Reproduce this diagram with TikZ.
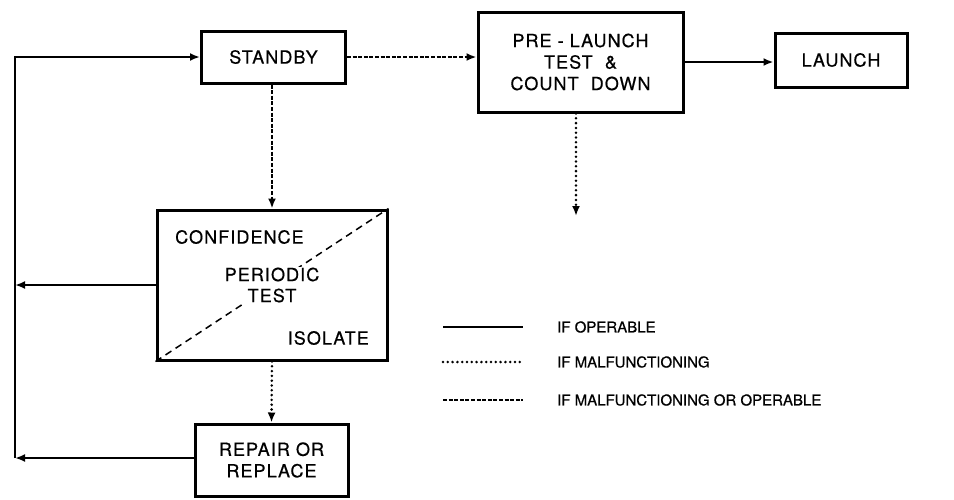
\documentclass[tikz,border=0pt]{standalone}
\usepackage{fontspec}
\setmainfont{TeX Gyre Heros}
\newfontfamily\boxfont[LetterSpace=6,FakeBold=0.6]{TeX Gyre Heros}
\newfontfamily\legfont[FakeBold=0.6]{TeX Gyre Heros}
\usetikzlibrary{arrows.meta}
\begin{document}
\begin{tikzpicture}[x=1pt,y=-1pt,
	block/.style={draw, line width=3pt, align=center, inner sep=0pt,
		font=\boxfont\fontsize{18}{21.5}\selectfont},
	label text/.style={inner sep=1pt, font=\boxfont\fontsize{18}{21}\selectfont},
	legend text/.style={anchor=west, inner sep=0pt, font=\legfont\fontsize{15}{18}\selectfont},
	operable/.style={line width=2pt},
	malfunc/.style={line width=2.8pt, line cap=round, dash pattern=on 0pt off 4.8pt},
	either/.style={line width=2.4pt, dash pattern=on 4pt off 1.6pt},
	tip/.style={-{Latex[length=10pt,width=8pt]}}]
	\useasboundingbox (0,0) rectangle (954,499);
	%----------------------------------------------------------
	% Blocks
	%------------------------------------------------------
	\node[block, minimum width=144pt, minimum height=52pt] (standby) at (273.5,57) {STANDBY};
	\node[block, minimum width=205pt, minimum height=100pt] (prelaunch) at (580.5,62)
		{PRE - LAUNCH\\TEST \ \&\\COUNT \ DOWN};
	\node[block, minimum width=132pt, minimum height=54pt] (launch) at (841,60) {LAUNCH};
	\node[block, minimum width=230pt, minimum height=150pt] (confid) at (272,285) {};
	\node[block, minimum width=153pt, minimum height=72pt] (repair) at (271.5,460)
		{REPAIR OR\\REPLACE};
	
	%Test box
	%------------------------------------------------------
	\draw[line width=1.5pt, dash pattern=on 7pt off 5pt] (confid.south west) -- (confid.north east);
	\node[label text, anchor=west] (conf) at (174,237) {CONFIDENCE};
	\node[label text, fill=white, align=center] (periodic) at (272,285) {PERIODIC\\TEST};
	\node[label text, anchor=east] (isolate) at (370,338) {ISOLATE};
	
	%Return path
	%------------------------------------------------------
	\coordinate (lbot) at (15,458);
	\coordinate (lmid) at (15,285);
	\coordinate (pldown) at (576,216);
	
	%Lines
	%------------------------------------------------------
	\draw[operable, tip] (lbot) |- (standby.west);
	\draw[operable, tip] (confid.west) -- (lmid);
	\draw[operable, tip] (repair.west |- lbot) -- (lbot);
	\draw[either, tip] (standby.east) -- (standby.east -| prelaunch.west);
	\draw[either, tip] (standby.south -| confid.north) -- (confid.north);
	\draw[operable, tip] (prelaunch.east) -- (prelaunch.east -| launch.west);
	\draw[malfunc, tip] (confid.south) -- (repair.north);
	\draw[malfunc, tip] (pldown |- prelaunch.south) -- (pldown);
	
	%Legend
	%------------------------------------------------------
	\node[legend text] (leg1) at (557,327) {IF OPERABLE};
	\node[legend text] (leg2) at (557,362) {IF MALFUNCTIONING};
	\node[legend text] (leg3) at (557,400) {IF MALFUNCTIONING OR OPERABLE};
	\draw[operable] ([xshift=-114pt]leg1.west) -- ([xshift=-34pt]leg1.west);
	\draw[malfunc] ([xshift=-114pt]leg2.west) -- ([xshift=-34pt]leg2.west);
	\draw[either] ([xshift=-114pt]leg3.west) -- ([xshift=-34pt]leg3.west);
\end{tikzpicture}
\end{document}
